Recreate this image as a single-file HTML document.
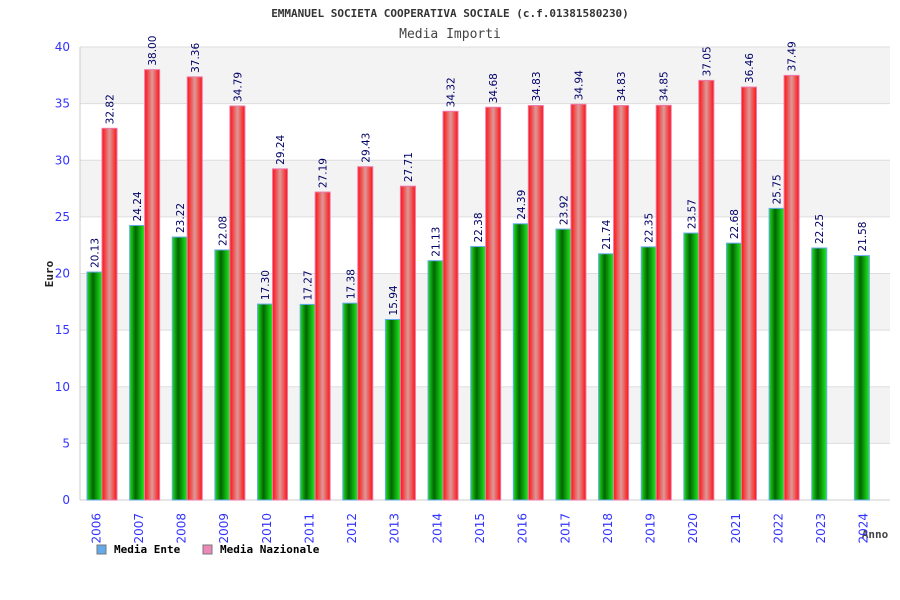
<!DOCTYPE html>
<html><head><meta charset="utf-8"><style>
body{margin:0;background:#fff;width:900px;height:600px;overflow:hidden}
svg{display:block}
text{font-family:"DejaVu Sans Mono","Liberation Mono",monospace}
.s{font-family:"DejaVu Sans","Liberation Sans",sans-serif}
</style></head><body>
<svg id="chart" width="900" height="600">
<defs>
<linearGradient id="gG" x1="0" x2="1" y1="0" y2="0">
<stop offset="0" stop-color="#22dd22"/><stop offset="0.4" stop-color="#006600"/><stop offset="1" stop-color="#22ee22"/></linearGradient>
<linearGradient id="gR" x1="0" x2="1" y1="0" y2="0">
<stop offset="0" stop-color="#ff1111"/><stop offset="0.5" stop-color="#dd9999"/><stop offset="1" stop-color="#ff1111"/></linearGradient>
</defs>
<text x="450" y="17" text-anchor="middle" font-size="11" font-weight="bold" fill="#333">EMMANUEL SOCIETA COOPERATIVA SOCIALE (c.f.01381580230)</text>
<text x="450" y="38" text-anchor="middle" font-size="13" fill="#444">Media Importi</text>
<text x="53" y="274" text-anchor="middle" font-size="11" font-weight="bold" fill="#222" transform="rotate(-90 53 274)">Euro</text>
<text x="875" y="538" text-anchor="middle" font-size="11" font-weight="bold" fill="#444">Anno</text>
<g id="grid"></g><g id="bars"></g><g id="labels"></g>
<rect x="97" y="545" width="9" height="9" fill="#66aaee" stroke="#777"/>
<text x="114" y="553" font-size="11" font-weight="bold" fill="#000">Media Ente</text>
<rect x="203" y="545" width="9" height="9" fill="#ee88bb" stroke="#777"/>
<text x="220" y="553" font-size="11" font-weight="bold" fill="#000">Media Nazionale</text>
</svg>
<script>
const categories=["2006","2007","2008","2009","2010","2011","2012","2013","2014","2015","2016","2017","2018","2019","2020","2021","2022","2023","2024"];
const ente=[20.13,24.24,23.22,22.08,17.30,17.27,17.38,15.94,21.13,22.38,24.39,23.92,21.74,22.35,23.57,22.68,25.75,22.25,21.58];
const nazionale=[32.82,38.00,37.36,34.79,29.24,27.19,29.43,27.71,34.32,34.68,34.83,34.94,34.83,34.85,37.05,36.46,37.49,null,null];
const yTicks=[0,5,10,15,20,25,30,35,40];
const NS="http://www.w3.org/2000/svg";
const L=80,R=890,T=47,B=500,yMax=40;
const y=v=>B-(v/yMax)*(B-T);
const gw=(R-L)/categories.length;
const gx=i=>L+i*gw;
function mk(tag,attrs,parent){const e=document.createElementNS(NS,tag);for(const k in attrs)e.setAttribute(k,attrs[k]);parent.appendChild(e);return e;}
const grid=document.getElementById('grid'),bars=document.getElementById('bars'),labels=document.getElementById('labels');
for(let i=0;i<yTicks.length-1;i++){
 if(i%2===1){const b=mk('rect',{x:L,y:y(yTicks[i+1]),width:R-L,height:y(yTicks[i])-y(yTicks[i+1]),fill:'#f3f3f3'},grid);
 
 }
}
yTicks.forEach(t=>{
 const l=mk('line',{x1:L,x2:R,y1:y(t),y2:y(t),stroke:'#dddddd'},grid);
 
 
 const tx=mk('text',{x:70,y:y(t)+4,'text-anchor':'end','font-size':12,fill:'#3333ff','class':'s'},grid);
 tx.textContent=t;
 
 
});
const ax=mk('line',{x1:L,x2:L,y1:T,y2:B,stroke:'#ccc'},grid);


const bw=15;
categories.forEach((c,i)=>{
 const x0=gx(i)+7;
 const v1=ente[i];
 const r1=mk('rect',{x:x0,y:y(v1),width:bw,height:B-y(v1),fill:'url(#gG)',stroke:'#66aaee','stroke-width':1},bars);
 
 
 const t1=mk('text',{transform:`translate(${x0+bw/2+4},${y(v1)-4}) rotate(-90)`,'font-size':10.5,fill:'#000066','class':'s'},labels);
 t1.textContent=v1.toFixed(2);
 
 
 const v2=nazionale[i];
 if(v2!=null){
  const r2=mk('rect',{x:x0+bw,y:y(v2),width:bw,height:B-y(v2),fill:'url(#gR)',stroke:'#ee77aa','stroke-width':1},bars);
  
  
  const t2=mk('text',{transform:`translate(${x0+bw*1.5+4},${y(v2)-4}) rotate(-90)`,'font-size':10.5,fill:'#000066','class':'s'},labels);
  t2.textContent=v2.toFixed(2);
  
  
 }
 const xl=mk('text',{transform:`translate(${gx(i)+gw/2-1},${513}) rotate(-90)`,'text-anchor':'end','font-size':12,fill:'#3333ff','class':'s'},labels);
 xl.textContent=c;
 
 
});
const bx=mk('line',{x1:L,x2:R,y1:B,y2:B,stroke:'#ccc'},grid);


</script>
</body></html>
